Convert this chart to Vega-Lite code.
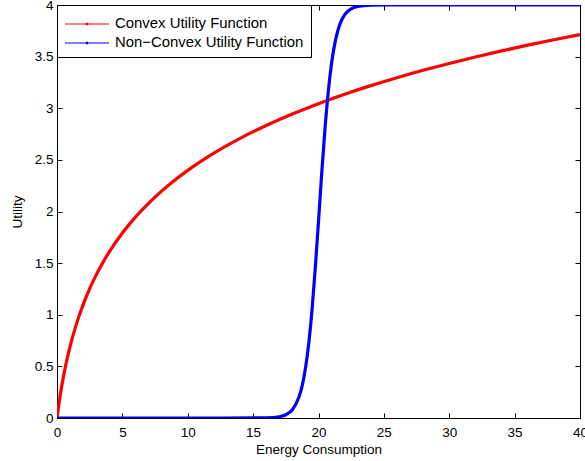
{
  "$schema": "https://vega.github.io/schema/vega-lite/v6.json",
  "width": 523,
  "height": 413,
  "autosize": "none",
  "padding": {"left": 57, "top": 5, "right": 5, "bottom": 43},
  "background": "white",
  "config": {
    "view": {"stroke": "black", "strokeWidth": 1},
    "font": "Liberation Sans",
    "axis": {"grid": false, "domainColor": "black", "tickColor": "black", "labelColor": "black", "titleColor": "black", "labelFont": "Liberation Sans", "titleFont": "Liberation Sans", "labelFontSize": 13.5, "titleFontSize": 13.5, "titleFontWeight": "normal", "tickSize": -5, "domainWidth": 1, "tickWidth": 1, "labelFlush": false, "labelOverlap": false, "labelBound": false}
  },
  "data": {"values": [
    {"x": 0, "y": 0, "s": "Convex Utility Function"},
    {"x": 0.25, "y": 0.2231, "s": "Convex Utility Function"},
    {"x": 0.5, "y": 0.4055, "s": "Convex Utility Function"},
    {"x": 0.75, "y": 0.5596, "s": "Convex Utility Function"},
    {"x": 1, "y": 0.6931, "s": "Convex Utility Function"},
    {"x": 1.5, "y": 0.9163, "s": "Convex Utility Function"},
    {"x": 2, "y": 1.0986, "s": "Convex Utility Function"},
    {"x": 2.5, "y": 1.2528, "s": "Convex Utility Function"},
    {"x": 3, "y": 1.3863, "s": "Convex Utility Function"},
    {"x": 3.5, "y": 1.5041, "s": "Convex Utility Function"},
    {"x": 4, "y": 1.6094, "s": "Convex Utility Function"},
    {"x": 5, "y": 1.7918, "s": "Convex Utility Function"},
    {"x": 6, "y": 1.9459, "s": "Convex Utility Function"},
    {"x": 7, "y": 2.0794, "s": "Convex Utility Function"},
    {"x": 8, "y": 2.1972, "s": "Convex Utility Function"},
    {"x": 9, "y": 2.3026, "s": "Convex Utility Function"},
    {"x": 10, "y": 2.3979, "s": "Convex Utility Function"},
    {"x": 12, "y": 2.5649, "s": "Convex Utility Function"},
    {"x": 14, "y": 2.7081, "s": "Convex Utility Function"},
    {"x": 16, "y": 2.8332, "s": "Convex Utility Function"},
    {"x": 18, "y": 2.9444, "s": "Convex Utility Function"},
    {"x": 20, "y": 3.0445, "s": "Convex Utility Function"},
    {"x": 22, "y": 3.1355, "s": "Convex Utility Function"},
    {"x": 24, "y": 3.2189, "s": "Convex Utility Function"},
    {"x": 26, "y": 3.2958, "s": "Convex Utility Function"},
    {"x": 28, "y": 3.3673, "s": "Convex Utility Function"},
    {"x": 30, "y": 3.434, "s": "Convex Utility Function"},
    {"x": 32, "y": 3.4965, "s": "Convex Utility Function"},
    {"x": 34, "y": 3.5553, "s": "Convex Utility Function"},
    {"x": 36, "y": 3.6109, "s": "Convex Utility Function"},
    {"x": 38, "y": 3.6636, "s": "Convex Utility Function"},
    {"x": 40, "y": 3.7136, "s": "Convex Utility Function"},
    {"x": 0, "y": 0, "s": "Non−Convex Utility Function"},
    {"x": 10, "y": 0, "s": "Non−Convex Utility Function"},
    {"x": 15, "y": 0.0003, "s": "Non−Convex Utility Function"},
    {"x": 16, "y": 0.0018, "s": "Non−Convex Utility Function"},
    {"x": 17, "y": 0.0121, "s": "Non−Convex Utility Function"},
    {"x": 17.5, "y": 0.0312, "s": "Non−Convex Utility Function"},
    {"x": 18, "y": 0.0798, "s": "Non−Convex Utility Function"},
    {"x": 18.5, "y": 0.1999, "s": "Non−Convex Utility Function"},
    {"x": 18.75, "y": 0.312, "s": "Non−Convex Utility Function"},
    {"x": 19, "y": 0.4789, "s": "Non−Convex Utility Function"},
    {"x": 19.25, "y": 0.7179, "s": "Non−Convex Utility Function"},
    {"x": 19.5, "y": 1.0408, "s": "Non−Convex Utility Function"},
    {"x": 19.75, "y": 1.445, "s": "Non−Convex Utility Function"},
    {"x": 20, "y": 1.905, "s": "Non−Convex Utility Function"},
    {"x": 20.25, "y": 2.3755, "s": "Non−Convex Utility Function"},
    {"x": 20.5, "y": 2.8064, "s": "Non−Convex Utility Function"},
    {"x": 20.75, "y": 3.1633, "s": "Non−Convex Utility Function"},
    {"x": 21, "y": 3.4351, "s": "Non−Convex Utility Function"},
    {"x": 21.25, "y": 3.6287, "s": "Non−Convex Utility Function"},
    {"x": 21.5, "y": 3.7608, "s": "Non−Convex Utility Function"},
    {"x": 21.75, "y": 3.8478, "s": "Non−Convex Utility Function"},
    {"x": 22, "y": 3.904, "s": "Non−Convex Utility Function"},
    {"x": 22.5, "y": 3.9623, "s": "Non−Convex Utility Function"},
    {"x": 23, "y": 3.9853, "s": "Non−Convex Utility Function"},
    {"x": 24, "y": 3.9978, "s": "Non−Convex Utility Function"},
    {"x": 25, "y": 4, "s": "Non−Convex Utility Function"},
    {"x": 40, "y": 4, "s": "Non−Convex Utility Function"}
  ]},
  "layer": [
    {
      "mark": {"type": "line", "strokeWidth": 3.2, "interpolate": "monotone", "clip": true},
      "encoding": {
        "x": {"field": "x", "type": "quantitative", "scale": {"domain": [0, 40], "nice": false},
          "axis": {"title": "Energy Consumption", "values": [0,5,10,15,20,25,30,35,40], "labelPadding": 12, "titlePadding": 4, "labelExpr": "'' + datum.value"}},
        "y": {"field": "y", "type": "quantitative", "scale": {"domain": [0, 4], "nice": false},
          "axis": {"title": "Utility", "values": [0,0.5,1,1.5,2,2.5,3,3.5,4], "labelPadding": 9, "titlePadding": 10, "labelExpr": "'' + datum.value"}},
        "color": {"field": "s", "type": "nominal",
          "scale": {"domain": ["Convex Utility Function", "Non−Convex Utility Function"], "range": ["#ff0000", "#0000ff"]},
          "legend": {"title": null, "orient": "top-left", "offset": 0, "strokeColor": "black", "fillColor": "white", "padding": 7, "rowPadding": 0, "symbolOffset": 11, "labelFontSize": 14.9, "labelFont": "Liberation Sans", "labelColor": "black", "labelOffset": 16, "symbolType": "M-2,0H2M-0.08,0A0.08,0.08,0,1,0,0.08,0A0.08,0.08,0,1,0,-0.08,0", "symbolSize": 484, "symbolStrokeWidth": 1.2, "symbolFillColor": "transparent", "cornerRadius": 0, "labelLimit": 300}}
      }
    },
    {
      "mark": {"type": "line", "opacity": 0},
      "encoding": {
        "x": {"field": "x", "type": "quantitative", "scale": {"domain": [0, 40], "nice": false},
          "axis": {"orient": "top", "title": null, "labels": false, "values": [0,5,10,15,20,25,30,35,40]}},
        "y": {"field": "y", "type": "quantitative", "scale": {"domain": [0, 4], "nice": false},
          "axis": {"orient": "right", "title": null, "labels": false, "values": [0,0.5,1,1.5,2,2.5,3,3.5,4]}}
      }
    }
  ],
  "resolve": {"axis": {"x": "independent", "y": "independent"}}
}
